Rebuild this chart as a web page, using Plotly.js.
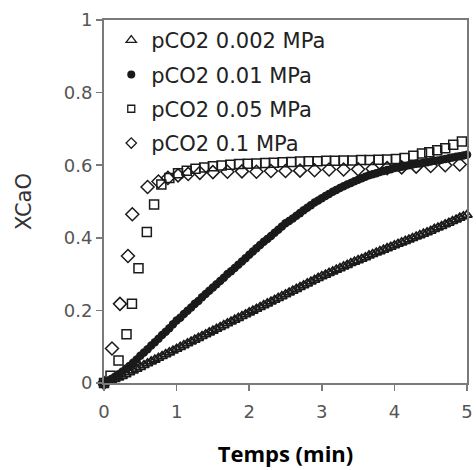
<!DOCTYPE html>
<html>
<head>
<meta charset="utf-8">
<script src="https://cdn.plot.ly/plotly-3.0.1.min.js"></script>
<style>html,body{margin:0;padding:0;background:#fff;}#chart{width:476px;height:470px;}</style>
</head>
<body>
<div id="chart"></div>
<script>
// Time step for the dense series (min)
const denseStep = 0.05;

// pCO2 0.002 MPa (triangles), values every 0.05 min from 0 to 5
const x002 = [0.000,0.003,0.007,0.011,0.015,0.019,0.024,0.029,0.034,0.039,
  0.044,0.049,0.054,0.059,0.064,0.069,0.074,0.079,0.084,0.089,
  0.094,0.099,0.104,0.109,0.114,0.119,0.124,0.129,0.134,0.139,
  0.144,0.149,0.154,0.159,0.164,0.169,0.174,0.179,0.184,0.189,
  0.194,0.199,0.204,0.209,0.214,0.219,0.224,0.229,0.234,0.239,
  0.244,0.249,0.254,0.259,0.264,0.269,0.274,0.279,0.284,0.289,
  0.294,0.298,0.303,0.307,0.312,0.316,0.321,0.325,0.330,0.334,
  0.338,0.342,0.346,0.351,0.355,0.359,0.363,0.367,0.371,0.375,
  0.379,0.383,0.387,0.391,0.395,0.399,0.403,0.407,0.411,0.415,
  0.419,0.424,0.428,0.432,0.437,0.441,0.446,0.450,0.455,0.459,0.463];

// pCO2 0.01 MPa (filled circles), values every 0.05 min from 0 to 5
const x01 = [0.000,0.005,0.011,0.017,0.024,0.031,0.039,0.047,0.056,0.065,
  0.075,0.084,0.093,0.103,0.112,0.122,0.132,0.141,0.151,0.162,
  0.172,0.180,0.190,0.199,0.208,0.218,0.226,0.236,0.245,0.254,
  0.263,0.272,0.281,0.290,0.300,0.308,0.317,0.326,0.335,0.344,
  0.353,0.362,0.371,0.380,0.389,0.397,0.405,0.414,0.422,0.431,
  0.440,0.446,0.453,0.461,0.468,0.476,0.483,0.490,0.497,0.503,
  0.509,0.515,0.521,0.527,0.532,0.537,0.542,0.547,0.551,0.556,
  0.560,0.564,0.568,0.572,0.575,0.578,0.581,0.584,0.587,0.589,
  0.592,0.594,0.596,0.598,0.600,0.602,0.604,0.605,0.607,0.608,
  0.610,0.612,0.613,0.615,0.617,0.619,0.621,0.623,0.625,0.627,0.629];

// pCO2 0.05 MPa (open squares)
const t05 = [0,0.09,0.2,0.31,0.385,0.475,0.59,0.69,0.79,0.9,1.02,1.14,1.26,1.38,1.5,1.62,1.74,1.86,1.98,2.1,
  2.22,2.34,2.46,2.58,2.7,2.82,2.94,3.06,3.18,3.3,3.42,3.54,3.66,3.78,3.9,4.02,4.14,4.26,4.38,4.48,4.59,4.7,4.81,4.93];
const x05 = [0,0.02,0.062,0.134,0.218,0.316,0.416,0.492,0.547,0.565,0.578,0.585,0.59,0.594,0.597,0.599,0.601,0.603,0.604,0.605,
  0.606,0.607,0.608,0.609,0.61,0.611,0.611,0.612,0.612,0.613,0.613,0.614,0.614,0.615,0.616,0.617,0.62,0.626,0.632,0.636,0.641,0.647,0.656,0.665];

// pCO2 0.1 MPa (open diamonds)
const t1 = [0,0.11,0.22,0.33,0.39,0.6,0.75,0.88,1.02,1.16,1.32,1.5,1.7,1.9,2.1,2.3,2.5,2.7,2.9,3.1,3.3,3.5,3.7,3.9,4.1,4.3,4.5,4.7,4.9];
const x1 = [0,0.095,0.218,0.35,0.465,0.54,0.555,0.565,0.572,0.576,0.579,0.581,0.582,0.583,0.582,0.584,0.584,0.585,0.586,0.588,0.588,0.589,0.59,0.592,0.594,0.596,0.598,0.6,0.602];

const names = ['pCO2 0.002 MPa','pCO2 0.01 MPa','pCO2 0.05 MPa','pCO2 0.1 MPa'];
const xTickVals = [0,1,2,3,4,5];
const yTickVals = [0,0.2,0.4,0.6,0.8,1];

const tDense = x002.map((_, i) => +(i * denseStep).toFixed(2));

const ink = '#1a1a1a';
const markers = [
  {symbol: 'triangle-up-open', size: 9, color: ink, line: {width: 1.8, color: ink}},
  {symbol: 'circle', size: 8.5, color: ink, line: {width: 0}},
  {symbol: 'square-open', size: 9, color: ink, line: {width: 1.5, color: ink}},
  {symbol: 'diamond-open', size: 10, color: ink, line: {width: 1.5, color: ink}}
];
const legendMarkers = [
  {symbol: 'triangle-up-open', size: 9, color: ink, line: {width: 1.3, color: ink}},
  {symbol: 'circle', size: 8, color: ink, line: {width: 0}},
  {symbol: 'square-open', size: 7, color: ink, line: {width: 1.3, color: ink}},
  {symbol: 'diamond-open', size: 8, color: ink, line: {width: 1.3, color: ink}}
];
const series = [[tDense, x002], [tDense, x01], [t05, x05], [t1, x1]];

const traces = [];
series.forEach((s, i) => {
  traces.push({x: s[0], y: s[1], name: names[i], mode: 'markers', type: 'scatter', cliponaxis: false,
    showlegend: false, marker: markers[i]});
});
names.forEach((n, i) => {
  traces.push({x: [null], y: [null], name: n, mode: 'markers', type: 'scatter', legendgroup: 'g' + i,
    marker: legendMarkers[i]});
});

const axisCommon = {
  showline: true, linecolor: '#7a7a7a', linewidth: 2, mirror: true,
  ticks: 'outside', ticklen: 6, tickwidth: 1.5, tickcolor: '#7a7a7a',
  showgrid: false, zeroline: false, ticklabeloverflow: 'allow',
  tickfont: {family: 'DejaVu Sans', size: 18, color: '#555'}
};

const layout = {
  width: 476, height: 470,
  margin: {l: 104, r: 9, t: 20, b: 87},
  paper_bgcolor: '#fff', plot_bgcolor: '#fff',
  showlegend: true,
  legend: {x: 0.02, y: 1.0, xanchor: 'left', yanchor: 'top', bgcolor: 'rgba(0,0,0,0)',
    traceorder: 'grouped', tracegroupgap: 4,
    font: {family: 'DejaVu Sans', size: 21, color: '#222'}},
  xaxis: Object.assign({}, axisCommon, {range: [0, 5], tickvals: xTickVals, ticktext: xTickVals.map(String),
    ticklabelstandoff: 5,
    title: {text: 'Temps (min)', standoff: 26, font: {family: 'Open Sans', size: 22, color: '#000', weight: 'bold'}}}),
  yaxis: Object.assign({}, axisCommon, {range: [0, 1], tickvals: yTickVals, ticktext: yTickVals.map(String),
    title: {text: 'XCaO', standoff: 26, font: {family: 'DejaVu Sans', size: 21, color: '#333'}}})
};

Plotly.newPlot('chart', traces, layout, {displayModeBar: false, staticPlot: true});
</script>
</body>
</html>
